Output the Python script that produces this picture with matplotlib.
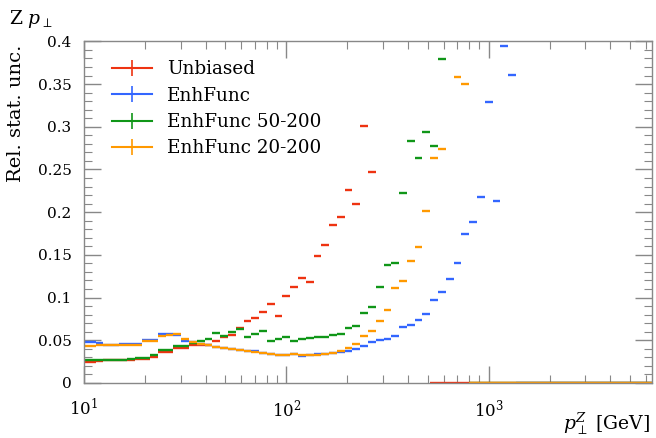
import numpy as np
import matplotlib
matplotlib.use("Agg")
import matplotlib.pyplot as plt
from matplotlib.lines import Line2D
from matplotlib.ticker import MultipleLocator, LogLocator

plt.rcParams['font.family'] = ['DejaVu Serif']
plt.rcParams['mathtext.fontset'] = 'dejavuserif'

# 26 log bins per decade; the first bin starts at the 10 GeV axis edge
n_bins = 73
edges = 10 ** (1 + (np.arange(n_bins + 1) + 0.5) / 26)
edges[0] = 10.0
x_max = 10 ** (1 + n_bins / 26)

# relative statistical uncertainty per bin (None = off scale)
unbiased = [
    0.024, 0.026, 0.027, 0.027, 0.027, 0.027, 0.028, 0.028, 0.031, 0.036,
    0.036, 0.041, 0.041, 0.045, 0.044, 0.044, 0.049, 0.054, 0.056, 0.064,
    0.072, 0.076, 0.083, 0.092, 0.078, 0.102, 0.112, 0.123, 0.118, 0.149,
    0.161, 0.185, 0.194, 0.226, 0.209, 0.301, 0.247, None, None, None,
    None, None, None, None, 0.0, 0.0, 0.0, 0.0, 0.0, 0.0,
    0.0, 0.0, 0.0, 0.0, 0.0, 0.0, 0.0, 0.0, 0.0, 0.0,
    0.0, 0.0, 0.0, 0.0, 0.0, 0.0, 0.0, 0.0, 0.0, 0.0,
    0.0, 0.0, 0.0,
]
enhfunc = [
    0.048, 0.047, 0.045, 0.045, 0.046, 0.046, 0.046, 0.050, 0.050, 0.057,
    0.057, 0.056, 0.049, 0.048, 0.046, 0.044, 0.042, 0.041, 0.040, 0.039,
    0.038, 0.037, 0.035, 0.034, 0.033, 0.033, 0.034, 0.032, 0.033, 0.034,
    0.034, 0.035, 0.036, 0.038, 0.040, 0.043, 0.048, 0.050, 0.052, 0.055,
    0.066, 0.068, 0.074, 0.081, 0.097, 0.107, 0.122, 0.140, 0.174, 0.188,
    0.218, 0.329, 0.213, 0.394, 0.361, 0.0, 0.0, 0.0, 0.0, 0.0,
    0.0, 0.0, 0.0, 0.0, 0.0, 0.0, 0.0, 0.0, 0.0, 0.0,
    0.0, 0.0, 0.0,
]
enhfunc_50_200 = [
    0.027, 0.027, 0.027, 0.027, 0.027, 0.028, 0.029, 0.029, 0.033, 0.039,
    0.039, 0.043, 0.043, 0.047, 0.049, 0.051, 0.058, 0.055, 0.060, 0.063,
    0.054, 0.057, 0.061, 0.049, 0.051, 0.054, 0.049, 0.052, 0.053, 0.054,
    0.054, 0.056, 0.057, 0.064, 0.067, 0.082, 0.089, 0.112, 0.138, 0.141,
    0.223, 0.283, 0.264, 0.294, 0.278, 0.379, None, None, None, 0.0,
    0.0, 0.0, 0.0, 0.0, 0.0, 0.0, 0.0, 0.0, 0.0, 0.0,
    0.0, 0.0, 0.0, 0.0, 0.0, 0.0, 0.0, 0.0, 0.0, 0.0,
    0.0, 0.0, 0.0,
]
enhfunc_20_200 = [
    0.043, 0.045, 0.044, 0.044, 0.045, 0.045, 0.045, 0.049, 0.049, 0.055,
    0.056, 0.057, 0.051, 0.048, 0.046, 0.044, 0.042, 0.041, 0.040, 0.039,
    0.038, 0.036, 0.035, 0.034, 0.033, 0.033, 0.034, 0.033, 0.033, 0.033,
    0.034, 0.035, 0.038, 0.041, 0.046, 0.055, 0.061, 0.073, 0.085, 0.111,
    0.119, 0.143, 0.159, 0.201, 0.264, 0.274, None, 0.358, 0.350, 0.0,
    0.0, 0.0, 0.0, 0.0, 0.0, 0.0, 0.0, 0.0, 0.0, 0.0,
    0.0, 0.0, 0.0, 0.0, 0.0, 0.0, 0.0, 0.0, 0.0, 0.0,
    0.0, 0.0, 0.0,
]

labels = ['Unbiased', 'EnhFunc', 'EnhFunc 50-200', 'EnhFunc 20-200']
colors = ['#EE3311', '#3366FF', '#109618', '#FF9900']
series = [unbiased, enhfunc, enhfunc_50_200, enhfunc_20_200]

fig = plt.figure(figsize=(6.56, 4.38), dpi=100)
ax = fig.add_axes([0.128, 0.1256, 0.866, 0.78])

for vals, c in zip(series, colors):
    y = np.array(vals, dtype=float)
    ax.hlines(y, edges[:-1], edges[1:], colors=c, lw=1.7)

ax.set_xscale('log')
ax.set_xlim(10, x_max)
ax.set_ylim(0, 0.4)

ax.set_yticks(np.arange(0, 0.41, 0.05))
ax.set_yticklabels(['0', '0.05', '0.1', '0.15', '0.2', '0.25', '0.3', '0.35', '0.4'])
ax.yaxis.set_minor_locator(MultipleLocator(0.01))
ax.xaxis.set_major_locator(LogLocator(base=10))
ax.xaxis.set_minor_locator(LogLocator(base=10, subs=np.arange(2, 10)))

spine_col = '#888888'
for s in ax.spines.values():
    s.set_color(spine_col)
    s.set_linewidth(1.0)
ax.tick_params(which='both', direction='in', top=True, right=True,
               color=spine_col, labelsize=11)
ax.tick_params(which='major', length=12, width=1.0)
ax.tick_params(which='minor', length=5.5, width=0.8)
ax.tick_params(axis='y', which='major', pad=9)
ax.tick_params(axis='x', which='major', pad=11, labelsize=12)

ax.set_ylabel('Rel. stat. unc.', loc='top', fontsize=14)
ax.yaxis.set_label_coords(-0.103, 0.99)
ax.set_xlabel(r'$p_\perp^Z$ [GeV]', loc='right', fontsize=13.5)
ax.xaxis.set_label_coords(0.997, -0.08)
fig.text(0.013, 0.957, r'Z $p_\perp$', fontsize=13.5, ha='left', va='center')

handles = [Line2D([], [], color=c, lw=1.5, marker='|', markersize=12,
                  markeredgewidth=1.2) for c in colors]
ax.legend(handles, labels, loc='upper left', frameon=False, fontsize=13.2,
          handlelength=2.2, handletextpad=0.8, labelspacing=0.46,
          borderpad=0, borderaxespad=0, bbox_to_anchor=(0.049, 0.945))

fig.savefig('out.png', dpi=100)
